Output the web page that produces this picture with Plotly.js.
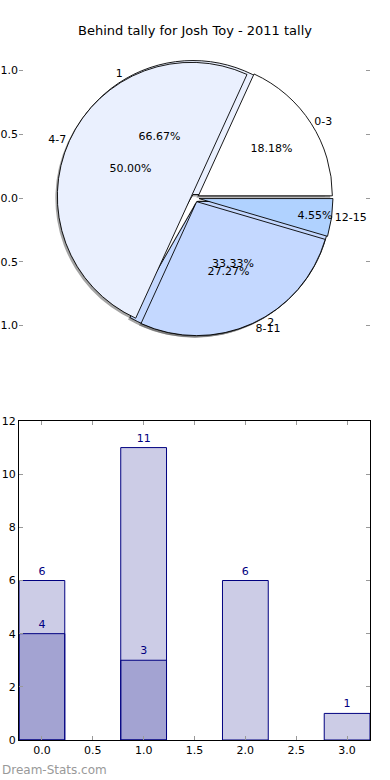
<!DOCTYPE html>
<html>
<head>
<meta charset="utf-8">
<script src="https://cdn.plot.ly/plotly-3.0.1.min.js"></script>
<style>html,body{margin:0;padding:0;background:#fff;}#chart{width:390px;height:780px;}</style>
</head>
<body>
<div id="chart"></div>
<script>
// ---- data ----
const titleText = 'Behind tally for Josh Toy - 2011 tally';
const pieCats = ['0-3', '4-7', '8-11', '12-15'];
const pieVals = [4, 11, 6, 1];
const pieColors = ['#ffffff', '#eaf0fe', '#c4d8ff', '#b0d2ff'];
const pie2Cats = ['1', '2'];
const pie2Vals = [2, 1];
const pie2Colors = ['#eaf0fe', '#c4d8ff'];
const barX = [0, 1, 2, 3];
const barTotals = [6, 11, 6, 1];
const barX2 = [0, 1];
const barSub = [4, 3];
const pieTicks = [-1, -0.5, 0, 0.5, 1];
const barXTicks = [0, 0.5, 1, 1.5, 2, 2.5, 3];
const watermark = 'Dream-Stats.com';

// ---- layout helpers ----
const W = 390, H = 780, ML = 19, MR = 20;
const PW = W - ML - MR;
const px2x = p => (p - ML) / PW;
const py2y = p => (H - p) / H;
const FONT = 'DejaVu Sans, sans-serif';

const cx = 195, cy = 198, R = 138;
const pieDomain = (dx, dy) => ({
  x: [px2x(cx - R + dx), px2x(cx + R + dx)],
  y: [py2y(cy + R + dy), py2y(cy - R + dy)]
});
// start the first slice at 3 o'clock, going counter-clockwise
const sum = a => a.reduce((s, v) => s + v, 0);
const rotFor = vals => 90 - 360 * vals[0] / sum(vals);

const pull = 0.03;
const common = {
  type: 'pie', sort: false, direction: 'counterclockwise',
  hoverinfo: 'skip', showlegend: false
};
const clear = c => c.map(() => 'rgba(0,0,0,0)');
const txtFont = {family: FONT, size: 11, color: '#000'};

const traces = [];
traces.push({type: 'scatter', x: [], y: [], xaxis: 'x2', yaxis: 'y2', showlegend: false, hoverinfo: 'skip'});

// shadows
[[pie2Cats, pie2Vals], [pieCats, pieVals]].forEach(([c, v]) => {
  traces.push(Object.assign({}, common, {
    labels: c, values: v, domain: pieDomain(-2, 2), pull: pull, rotation: rotFor(v),
    marker: {colors: c.map(() => 'rgba(90,90,90,0.55)'), line: {width: 0}},
    textinfo: 'none'
  }));
});
// pie 2 (under) and pie 1 (top): wedges only
[[pie2Cats, pie2Vals, pie2Colors], [pieCats, pieVals, pieColors]].forEach(([c, v, col]) => {
  traces.push(Object.assign({}, common, {
    labels: c, values: v, domain: pieDomain(0, 0), pull: pull, rotation: rotFor(v),
    marker: {colors: col, line: {color: '#000', width: 0.9}},
    textinfo: 'none'
  }));
});
// percentages and labels, drawn above all wedges
[[pie2Cats, pie2Vals], [pieCats, pieVals]].forEach(([c, v]) => {
  traces.push(Object.assign({}, common, {
    labels: c, values: v, domain: pieDomain(0, 0), pull: pull, rotation: rotFor(v),
    marker: {colors: clear(c), line: {width: 0}},
    texttemplate: '%{percent:.2%}', textposition: 'inside',
    insidetextorientation: 'horizontal', textfont: txtFont
  }));
  traces.push(Object.assign({}, common, {
    labels: c, values: v, domain: pieDomain(0, 0), pull: pull, rotation: rotFor(v),
    marker: {colors: clear(c), line: {width: 0}},
    textinfo: 'label', textposition: 'outside', textfont: txtFont
  }));
});

// bars
const barStyle = {
  type: 'bar', width: 0.45, showlegend: false, hoverinfo: 'skip',
  marker: {color: 'rgba(0,0,128,0.2)', line: {color: '#000080', width: 1}},
  texttemplate: '%{y}', textposition: 'outside', cliponaxis: false,
  textfont: {family: FONT, size: 11, color: '#000080'}
};
traces.push(Object.assign({}, barStyle, {x: barX, y: barTotals, xaxis: 'x', yaxis: 'y'}));
traces.push(Object.assign({}, barStyle, {x: barX2, y: barSub, xaxis: 'x', yaxis: 'y'}));

const layout = {
  width: W, height: H,
  margin: {l: ML, r: MR, t: 0, b: 0},
  paper_bgcolor: '#fff', plot_bgcolor: 'rgba(0,0,0,0)',
  font: {family: FONT, size: 11, color: '#000'},
  barmode: 'overlay',
  uniformtext: {mode: 'show', minsize: 11},
  title: {text: titleText, x: 0.5, xref: 'container', y: py2y(30), yref: 'container',
          yanchor: 'middle', xanchor: 'center', font: {family: FONT, size: 13, color: '#000'}},
  xaxis2: {domain: [0, 1], anchor: 'y2', range: [-1.25, 1.25], visible: false, fixedrange: true},
  yaxis2: {domain: [py2y(346), py2y(50)], anchor: 'x2', range: [-1.16, 1.16],
           tickvals: pieTicks, tickformat: '.1f', ticks: 'inside', ticklen: 4, tickwidth: 1,
           tickcolor: '#999', mirror: 'ticks', showline: false, showgrid: false, zeroline: false,
           automargin: false, tickfont: {family: FONT, size: 11, color: '#000'}},
  xaxis: {domain: [0, 1], anchor: 'y', range: [-0.225, 3.225], tickvals: barXTicks, tickformat: '.1f',
          ticks: 'inside', ticklen: 4, tickcolor: '#999', mirror: 'ticks', showline: true,
          linecolor: '#000', linewidth: 1, showgrid: false, zeroline: false, automargin: false,
          tickfont: {family: FONT, size: 11, color: '#000'}},
  yaxis: {domain: [py2y(740), py2y(421)], anchor: 'x', range: [0, 12], dtick: 2,
          ticks: 'inside', ticklen: 4, tickcolor: '#999', mirror: 'ticks', showline: true,
          linecolor: '#000', linewidth: 1, showgrid: false, zeroline: false, automargin: false,
          tickfont: {family: FONT, size: 11, color: '#000'}},
  annotations: [{
    text: watermark, xref: 'paper', yref: 'paper',
    x: px2x(0), y: py2y(770), xanchor: 'left', yanchor: 'middle', showarrow: false,
    font: {family: FONT, size: 12, color: '#999'}
  }]
};

Plotly.newPlot('chart', traces, layout, {displayModeBar: false, staticPlot: true});
</script>
</body>
</html>
